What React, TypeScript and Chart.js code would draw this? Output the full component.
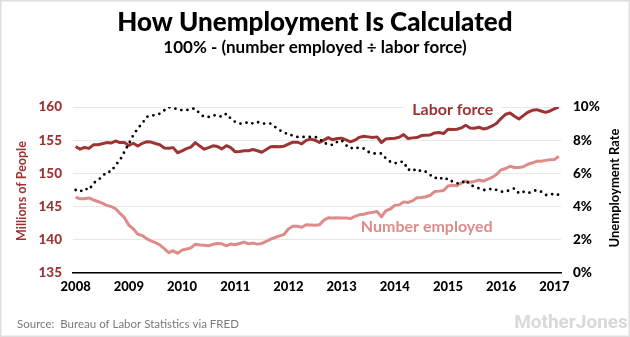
import React, { useEffect, useRef } from "react";
import { Chart, registerables } from "chart.js";

Chart.register(...registerables);

// ---- Data (monthly, Jan 2008 – Feb 2017) ----
const START_YEAR = 2008;
const YEAR_TICKS = [2008, 2009, 2010, 2011, 2012, 2013, 2014, 2015, 2016, 2017];
const LEFT_TICKS = [135, 140, 145, 150, 155, 160];
const RIGHT_TICKS = [0, 2, 4, 6, 8, 10];

// Labor force, millions of people
const laborForce = [
  154.06, 153.65, 153.91, 153.77, 154.3, 154.31, 154.47, 154.64, 154.57, 154.88, 154.64, 154.66,
  154.21, 154.54, 154.13, 154.51, 154.75, 154.72, 154.5, 154.31, 153.83, 153.78, 153.88, 153.11,
  153.4, 153.72, 153.96, 154.64, 154.11, 153.65, 153.88, 154.16, 154.04, 153.69, 154.17, 153.89,
  153.25, 153.3, 153.41, 153.42, 153.59, 153.41, 153.19, 153.59, 154.02, 154.05, 154.0, 154.1,
  154.4, 154.7, 154.7, 154.45, 154.98, 155.16, 155.0, 154.65, 155.02, 155.39, 155.06, 155.27,
  155.3, 155.04, 154.75, 155.0, 155.43, 155.6, 155.5, 155.4, 155.5, 154.65, 155.2, 155.25,
  155.3, 155.45, 155.85, 155.25, 155.35, 155.4, 155.7, 155.75, 155.8, 156.1, 156.15, 156.0,
  156.65, 156.6, 156.65, 156.85, 157.25, 156.85, 156.8, 156.95, 156.7, 156.85, 157.15, 157.55,
  158.3, 158.9, 159.1, 158.6, 158.2, 158.7, 159.2, 159.5, 159.6, 159.4, 159.2, 159.4,
  159.7, 160.0,
];

// Number employed, millions of people
const employed = [
  146.42, 146.17, 146.17, 146.31, 146.02, 145.77, 145.52, 145.19, 145.02, 144.68, 143.99, 143.34,
  142.19, 141.67, 140.85, 140.64, 140.18, 139.83, 139.58, 139.21, 138.66, 138.06, 138.36, 137.96,
  138.45, 138.62, 138.77, 139.34, 139.22, 139.18, 139.1, 139.32, 139.44, 139.39, 139.09, 139.38,
  139.25, 139.45, 139.65, 139.4, 139.5, 139.35, 139.45, 139.75, 140.1, 140.35, 140.6, 140.8,
  141.62, 142.04, 142.04, 141.89, 142.25, 142.22, 142.2, 142.25, 142.96, 143.33, 143.28, 143.31,
  143.3, 143.29, 143.2, 143.52, 143.76, 143.84, 144.03, 144.13, 144.26, 143.45, 144.38, 144.64,
  145.19, 145.26, 145.71, 145.63, 145.86, 146.32, 146.38, 146.48, 146.71, 147.26, 147.33, 147.43,
  148.1, 148.23, 148.15, 148.54, 148.82, 148.66, 148.8, 149.0, 148.82, 149.13, 149.4, 149.87,
  150.54, 150.74, 151.07, 150.88, 150.9, 151.0, 151.38, 151.57, 151.82, 151.83, 151.96, 152.05,
  152.08, 152.53,
];

// Unemployment rate, percent
const unemploymentRate = [
  5.0, 4.9, 5.1, 5.0, 5.4, 5.6, 5.8, 6.1, 6.1, 6.5, 6.8, 7.3,
  7.8, 8.3, 8.7, 9.0, 9.4, 9.5, 9.5, 9.6, 9.8, 10.0, 9.9, 9.9,
  9.8, 9.8, 9.9, 9.9, 9.6, 9.4, 9.4, 9.5, 9.5, 9.4, 9.6, 9.3,
  9.1, 9.0, 9.0, 9.1, 9.0, 9.1, 9.0, 9.0, 9.0, 8.8, 8.6, 8.5,
  8.3, 8.3, 8.2, 8.2, 8.2, 8.2, 8.2, 8.1, 7.8, 7.8, 7.7, 7.9,
  8.0, 7.7, 7.5, 7.6, 7.5, 7.5, 7.3, 7.2, 7.2, 7.2, 6.9, 6.7,
  6.6, 6.7, 6.7, 6.2, 6.3, 6.1, 6.2, 6.1, 5.9, 5.7, 5.8, 5.6,
  5.7, 5.5, 5.4, 5.4, 5.6, 5.3, 5.2, 5.1, 5.0, 5.0, 5.1, 5.0,
  4.9, 4.9, 5.0, 5.1, 4.8, 4.9, 4.8, 4.9, 5.0, 4.9, 4.7, 4.7,
  4.8, 4.7,
];

const TITLE = "How Unemployment Is Calculated";
const SUBTITLE = "100% - (number employed \u00f7 labor force)";
const LEFT_TITLE = "Millions of People";
const RIGHT_TITLE = "Unemployment Rate";
const SOURCE = "Source:  Bureau of Labor Statistics via FRED";
const LOGO = "MotherJones";
const LABOR_LABEL = "Labor force";
const EMPLOYED_LABEL = "Number employed";

// label anchors in data units (year, millions)
const LABOR_LABEL_AT = { x: 2015.09, y: 159.55 };
const EMPLOYED_LABEL_AT = { x: 2014.6, y: 141.9 };

const DARK = "#9d3434";
const LIGHT = "#dd8c89";
const FONT = "Lato, 'Open Sans', sans-serif";

const toPoints = (arr: number[]) =>
  arr.map((v, i) => ({ x: START_YEAR + i / 12, y: v }));

const decor = {
  id: "decor",
  beforeDatasetsDraw(chart: any) {
    const ctx = chart.ctx;
    const x = chart.scales.x;
    const y = chart.scales.y;
    ctx.save();
    ctx.font = `900 16px ${FONT}`;
    const w = ctx.measureText(LABOR_LABEL).width;
    const cx = x.getPixelForValue(LABOR_LABEL_AT.x);
    const cy = y.getPixelForValue(LABOR_LABEL_AT.y);
    ctx.fillStyle = "#ffffff";
    ctx.fillRect(cx - w / 2 - 8, cy - 10, w + 16, 20);
    ctx.restore();
  },
  afterDraw(chart: any) {
    const ctx = chart.ctx;
    const x = chart.scales.x;
    const y = chart.scales.y;
    const area = chart.chartArea;
    ctx.save();
    ctx.textAlign = "center";
    ctx.textBaseline = "middle";

    ctx.fillStyle = "#000";
    ctx.font = `900 26px ${FONT}`;
    ctx.fillText(TITLE, 315, 23);
    ctx.font = `bold 17px ${FONT}`;
    ctx.fillText(SUBTITLE, 315, 48);

    // series labels
    ctx.font = `bold 16px ${FONT}`;
    ctx.fillStyle = DARK;
    ctx.fillText(LABOR_LABEL, x.getPixelForValue(LABOR_LABEL_AT.x), y.getPixelForValue(LABOR_LABEL_AT.y));
    ctx.fillStyle = LIGHT;
    ctx.fillText(EMPLOYED_LABEL, x.getPixelForValue(EMPLOYED_LABEL_AT.x), y.getPixelForValue(EMPLOYED_LABEL_AT.y));

    const midY = (area.top + area.bottom) / 2;
    // left axis title
    ctx.save();
    ctx.translate(21.5, midY + 1);
    ctx.rotate(-Math.PI / 2);
    ctx.font = `bold 12.5px ${FONT}`;
    ctx.fillStyle = DARK;
    ctx.fillText(LEFT_TITLE, 0, 0);
    ctx.restore();
    // right axis title
    ctx.save();
    ctx.translate(615, midY - 2);
    ctx.rotate(-Math.PI / 2);
    ctx.font = `bold 13px ${FONT}`;
    ctx.fillStyle = "#000";
    ctx.fillText(RIGHT_TITLE, 0, 0);
    ctx.restore();

    // source
    ctx.textAlign = "left";
    ctx.font = `11.5px ${FONT}`;
    ctx.fillStyle = "#7a7a7a";
    ctx.fillText(SOURCE, 17, 324);

    // logo
    ctx.textAlign = "center";
    ctx.font = `bold 19px 'Liberation Sans Narrow', 'Roboto', sans-serif`;
    ctx.fillStyle = "#d9d9d9";
    ctx.fillText(LOGO, 571, 323);

    // frame
    ctx.strokeStyle = "#dedede";
    ctx.lineWidth = 1.5;
    ctx.strokeRect(0.75, 0.75, 628.5, 335.5);
    ctx.restore();
  },
};

export default function App() {
  const ref = useRef<HTMLCanvasElement | null>(null);

  useEffect(() => {
    if (!ref.current) return;
    const chart = new Chart(ref.current, {
      type: "line",
      data: {
        datasets: [
          {
            label: "Unemployment rate",
            data: toPoints(unemploymentRate),
            yAxisID: "y1",
            borderColor: "#000",
            borderWidth: 2.8,
            borderDash: [0, 6.2],
            borderCapStyle: "round",
            pointRadius: 0,
            tension: 0,
            order: 0,
          },
          {
            label: "Labor force",
            data: toPoints(laborForce),
            yAxisID: "y",
            borderColor: DARK,
            borderWidth: 3,
            pointRadius: 0,
            borderJoinStyle: "round",
            tension: 0,
            order: 1,
          },
          {
            label: "Number employed",
            data: toPoints(employed),
            yAxisID: "y",
            borderColor: LIGHT,
            borderWidth: 3,
            pointRadius: 0,
            borderJoinStyle: "round",
            tension: 0,
            order: 2,
          },
        ],
      },
      options: {
        animation: false,
        responsive: false,
        devicePixelRatio: 1,
        layout: { padding: { top: 107, left: 0, right: 0, bottom: 0 } },
        plugins: {
          legend: { display: false },
          tooltip: { enabled: false },
          title: { display: false },
        },
        scales: {
          x: {
            type: "linear",
            min: 2007.95,
            max: 2017.125,
            afterBuildTicks: (s: any) => {
              s.ticks = YEAR_TICKS.map((v) => ({ value: v }));
            },
            afterFit: (s: any) => {
              s.height = 64;
            },
            grid: { display: false, drawTicks: false },
            border: { display: true, color: "#000", width: 1.5 },
            ticks: {
              padding: 6,
              color: "#000",
              font: { family: FONT, weight: "900", size: 13 },
              callback: (v: any) => String(v),
              maxRotation: 0,
              autoSkip: false,
            },
          },
          y: {
            type: "linear",
            position: "left",
            min: 135,
            max: 160,
            afterBuildTicks: (s: any) => {
              s.ticks = LEFT_TICKS.map((v) => ({ value: v }));
            },
            afterFit: (s: any) => {
              s.width = 73;
            },
            grid: { color: "#e8e8e8", lineWidth: 1, drawTicks: false },
            border: { display: false },
            ticks: {
              padding: 11,
              color: DARK,
              font: { family: FONT, weight: "900", size: 13.5 },
            },
          },
          y1: {
            type: "linear",
            position: "right",
            min: 0,
            max: 10,
            afterBuildTicks: (s: any) => {
              s.ticks = RIGHT_TICKS.map((v) => ({ value: v }));
            },
            afterFit: (s: any) => {
              s.width = 69;
            },
            grid: { display: false, drawTicks: false },
            border: { display: false },
            ticks: {
              padding: 12,
              color: "#000",
              font: { family: FONT, weight: "900", size: 13.5 },
              callback: (v: any) => `${v}%`,
            },
          },
        },
      },
      plugins: [decor],
    });
    return () => chart.destroy();
  }, []);

  return (
    <div style={{ position: "fixed", left: 0, top: 0, width: 630, height: 337, background: "#fff" }}>
      <canvas ref={ref} width={630} height={337} style={{ display: "block" }} />
    </div>
  );
}
